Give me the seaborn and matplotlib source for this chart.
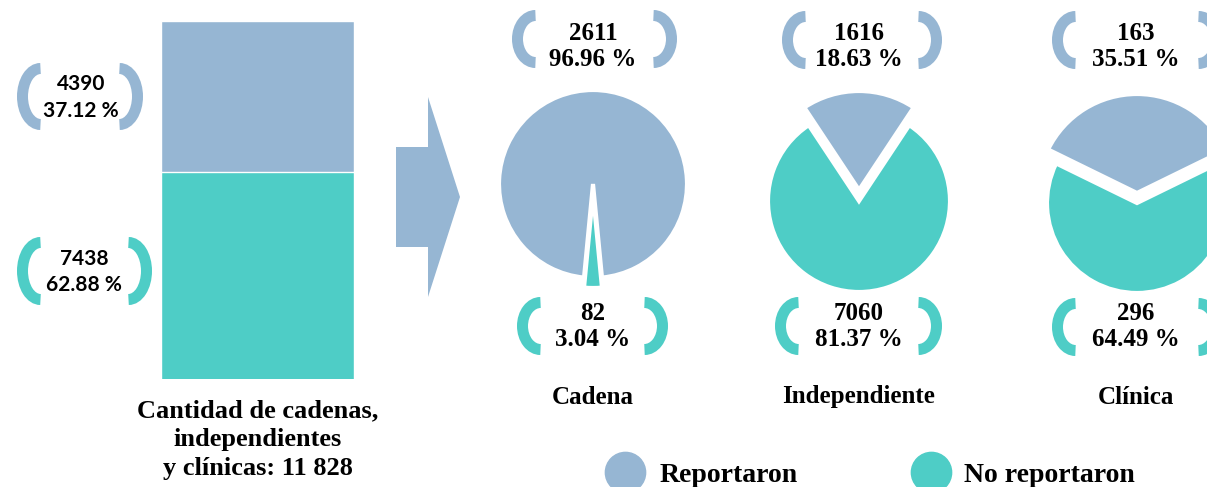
import matplotlib
matplotlib.use("Agg")
import matplotlib.pyplot as plt
from matplotlib.patches import Arc, Polygon
from matplotlib.lines import Line2D
import pandas as pd
import seaborn as sns

# data
groups = ["Cadena", "Independiente", "Clínica"]
reportaron = [2611, 1616, 163]
no_reportaron = [82, 7060, 296]
pct_reportaron = ["96.96 %", "18.63 %", "35.51 %"]
pct_no_reportaron = ["3.04 %", "81.37 %", "64.49 %"]
total_rep, total_no = 4390, 7438
total_pct = ["37.12 %", "62.88 %"]
legend_labels = ["Reportaron", "No reportaron"]

BLUE = "#96B6D3"
TEAL = "#4ECDC6"
W, H = 1207, 487

sns.set_theme(style="white")
plt.rcParams["font.family"] = ["Liberation Serif", "DejaVu Serif"]
plt.rcParams["text.color"] = "black"

fig = plt.figure(figsize=(W / 100, H / 100), dpi=100)


def px_axes(x0, y0, x1, y1):
    # axes placed with pixel box (top-left origin)
    return fig.add_axes([x0 / W, 1 - y1 / H, (x1 - x0) / W, (y1 - y0) / H])


# stacked bar
ax_bar = px_axes(161, 21, 354, 379)
total = total_rep + total_no
bar_df = pd.DataFrame({"g": ["total"], "todos": [total], "no": [total_no]})
sns.barplot(data=bar_df, x="g", y="todos", color=BLUE, width=1, saturation=1, ax=ax_bar)
sns.barplot(data=bar_df, x="g", y="no", color=TEAL, width=1, saturation=1, ax=ax_bar)
ax_bar.set_xlim(-0.5, 0.5)
ax_bar.set_ylim(1430, total)
ax_bar.axis("off")

# pies: center px, teal radius, blue radius, explode (blue, teal)
pie_layout = [
    ((593, 184), 94, 94, (0, 10)),
    ((859, 197), 91, 99, (7, 4)),
    ((1137, 198), 90, 99, (5, 5)),
]
R = 125
for i, ((cx, cy), r, rb, expl) in enumerate(pie_layout):
    ax = px_axes(cx - R, cy - R, cx + R, cy + R)
    frac_b = reportaron[i] / (reportaron[i] + no_reportaron[i])
    wedges, _ = ax.pie([reportaron[i], no_reportaron[i]], colors=[BLUE, TEAL],
                       radius=r, explode=expl, startangle=90 - 180 * frac_b,
                       wedgeprops=dict(edgecolor="white", linewidth=3))
    wedges[0].set_radius(rb)
    ax.set_xlim(-R, R)
    ax.set_ylim(-R, R)
    ax.axis("off")

# overlay for annotations (pixel coordinates)
ov = fig.add_axes([0, 0, 1, 1], zorder=5)
ov.set_xlim(0, W)
ov.set_ylim(H, 0)
ov.axis("off")
ov.patch.set_alpha(0)

# arrow
ov.add_patch(Polygon([(396, 147), (428, 147), (428, 97), (460, 197), (428, 297),
                      (428, 247), (396, 247)], closed=True, color=BLUE, lw=0))


def bracket(L, R_, cy, h, color):
    lw = 11
    rx, ry = 18, (h - lw) / 2
    ov.add_patch(Arc((L + lw / 2 + rx, cy), 2 * rx, 2 * ry, theta1=90, theta2=270,
                     color=color, lw=lw * 0.72, capstyle="butt"))
    ov.add_patch(Arc((R_ - lw / 2 - rx, cy), 2 * rx, 2 * ry, theta1=-90, theta2=90,
                     color=color, lw=lw * 0.72, capstyle="butt"))


# bar labels
sans = ["Lato", "DejaVu Sans"]
bracket(17, 143, 96.5, 67, BLUE)
bracket(17, 152, 271, 68, TEAL)
ov.text(81, 84, f"{total_rep}", ha="center", va="center", fontsize=15, weight="bold", family=sans)
ov.text(81, 111, total_pct[0], ha="center", va="center", fontsize=15, weight="bold", family=sans)
ov.text(84, 259, f"{total_no}", ha="center", va="center", fontsize=15, weight="bold", family=sans)
ov.text(84, 285, total_pct[1], ha="center", va="center", fontsize=15, weight="bold", family=sans)

# pie labels
top_br = [(512, 677, 39), (782, 942, 40), (1052, 1222, 40)]
bot_br = [(517, 668, 326), (775, 942, 326), (1052, 1222, 327)]
label_x = [593, 859, 1136]
for i in range(3):
    L, R_, cy = top_br[i]
    bracket(L, R_, cy, 58, BLUE)
    ov.text(label_x[i], cy - 6, f"{reportaron[i]}", ha="center", va="center",
            fontsize=18, weight="bold")
    ov.text(label_x[i], cy + 20, pct_reportaron[i], ha="center", va="center",
            fontsize=18, weight="bold")
    L, R_, cy = bot_br[i]
    bracket(L, R_, cy, 58, TEAL)
    ov.text(label_x[i], cy - 13, f"{no_reportaron[i]}", ha="center", va="center",
            fontsize=18, weight="bold")
    ov.text(label_x[i], cy + 13, pct_no_reportaron[i], ha="center", va="center",
            fontsize=18, weight="bold")
    ov.text(label_x[i], 397, groups[i], ha="center", va="center", fontsize=18, weight="bold")

# caption under the bar, one text per line
caption = ["Cantidad de cadenas,", "independientes", "y clínicas: 11 828"]
for k, line in enumerate(caption):
    ov.text(258, 411 + 28.5 * k, line, ha="center", va="center", fontsize=19, weight="bold")

# legend
handles = [Line2D([], [], marker="o", ls="", color=c, markersize=29) for c in (BLUE, TEAL)]
fig.legend(handles, legend_labels, loc="center left", bbox_to_anchor=(603 / W, 12 / H),
           ncol=2, frameon=False, handlelength=1.6, handletextpad=0.42,
           columnspacing=4.0, borderpad=0, borderaxespad=0,
           prop={"weight": "bold", "size": 20})

fig.savefig("out.png", dpi=100)
